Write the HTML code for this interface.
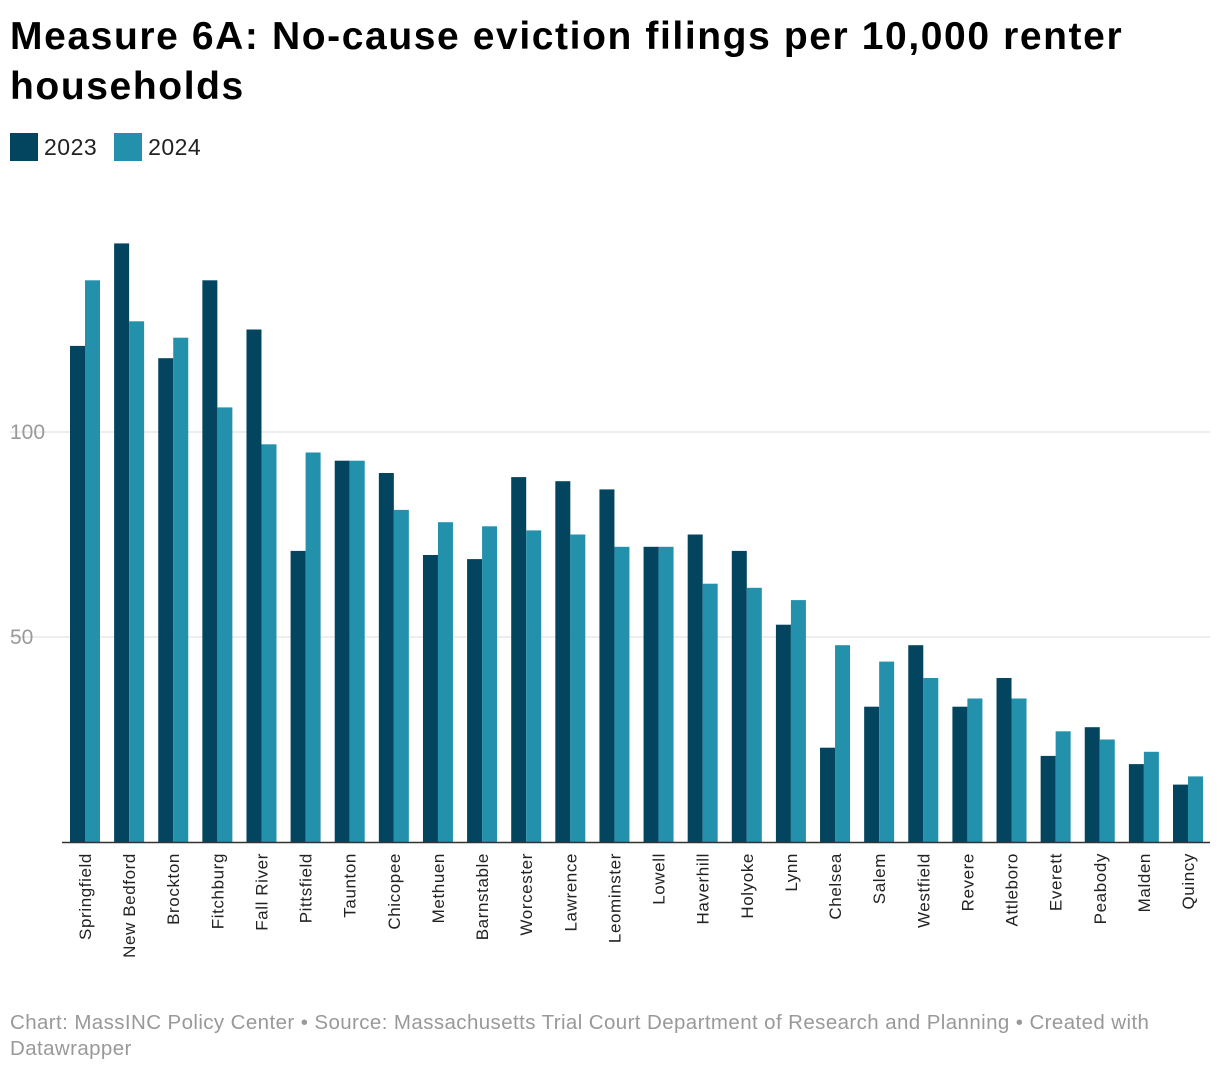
<!DOCTYPE html>
<html><head><meta charset="utf-8"><style>
body{margin:0;background:#fff;font-family:"Liberation Sans",sans-serif;}
#t{position:absolute;left:10px;top:12px;width:1210px;font-size:39px;font-weight:bold;line-height:50px;color:#000;letter-spacing:1.6px}
#lg{position:absolute;left:10px;top:133px;font-size:23px;color:#222;letter-spacing:0.5px}
.li{display:inline-flex;align-items:center;margin-right:10px}
.sw{width:28px;height:28px;margin-right:6px;display:inline-block}
#ft{position:absolute;left:10px;top:1010px;width:1190px;font-size:20.5px;line-height:26px;color:#999;letter-spacing:0.4px}
</style></head><body>
<div id="t">Measure 6A: No-cause eviction filings per 10,000 renter households</div>
<div id="lg">
<span class="li"><span class="sw" style="background:#03455f"></span>2023</span>
<span class="li"><span class="sw" style="background:#2391ab"></span>2024</span>
</div>
<svg id="c" width="1220" height="1072" style="position:absolute;left:0;top:0"></svg>
<div id="ft">Chart: MassINC Policy Center • Source: Massachusetts Trial Court Department of Research and Planning • Created with Datawrapper</div>
<script>
const categories=["Springfield","New Bedford","Brockton","Fitchburg","Fall River","Pittsfield","Taunton","Chicopee","Methuen","Barnstable","Worcester","Lawrence","Leominster","Lowell","Haverhill","Holyoke","Lynn","Chelsea","Salem","Westfield","Revere","Attleboro","Everett","Peabody","Malden","Quincy"];
const values2023=[121,146,118,137,125,71,93,90,70,69,89,88,86,72,75,71,53,23,33,48,33,40,21,28,19,14];
const values2024=[137,127,123,106,97,95,93,81,78,77,76,75,72,72,63,62,59,48,44,40,35,35,27,25,22,16];
const yTicks=[50,100];
const NS="http://www.w3.org/2000/svg";
const svg=document.getElementById('c');
const y0=842,ppu=4.1,x0=70,step=44.12,bw=15;
const y=v=>y0-v*ppu;
const x=i=>x0+i*step;
function mk(t,a){const e=document.createElementNS(NS,t);for(const k in a)e.setAttribute(k,a[k]);svg.appendChild(e);return e;}
yTicks.forEach(v=>{
 const l=mk('line',{x1:10,x2:1210,y1:y(v),y2:y(v),stroke:'#ddd','stroke-width':1});
 
 
 const t=mk('text',{x:10,y:y(v)+7,'font-size':21,fill:'#999','font-family':'Liberation Sans'});
 t.textContent=v;
 
 
});
categories.forEach((c,i)=>{
 const a=mk('rect',{x:x(i),y:y(values2023[i]),width:bw,height:values2023[i]*ppu,fill:'#03455f'});
 
 
 const b=mk('rect',{x:x(i)+bw,y:y(values2024[i]),width:bw,height:values2024[i]*ppu,fill:'#2391ab'});
 
 
 const cx=x(i)+bw+6;
 const t=mk('text',{x:cx,y:853,'font-size':17,fill:'#222','text-anchor':'end','font-family':'Liberation Sans','letter-spacing':'0.6',transform:`rotate(-90 ${cx} 853)`});
 t.textContent=c;
 
 
});
const ax=mk('line',{x1:62,x2:1210,y1:y0+0.5,y2:y0+0.5,stroke:'#333','stroke-width':1.5});


</script>
</body></html>
